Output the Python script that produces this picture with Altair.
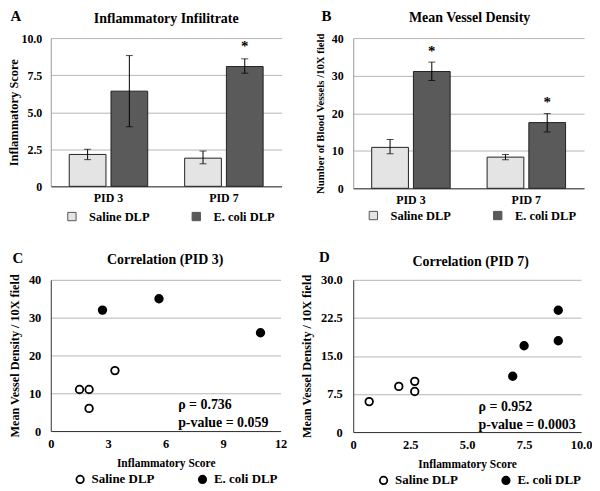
import altair as alt
import pandas as pd

FONT = "Liberation Serif"

# ---------------- data ----------------
timepoints = ["PID 3", "PID 3", "PID 7", "PID 7"]
groups = ["Saline DLP", "E. coli DLP", "Saline DLP", "E. coli DLP"]
group_order = ["Saline DLP", "E. coli DLP"]

infl_mean = [2.15, 6.42, 1.90, 8.08]
infl_low = [1.80, 4.02, 1.52, 7.63]
infl_high = [2.50, 8.82, 2.38, 8.60]
infl_star = [None, None, None, 9.45]

mvd_mean = [10.9, 31.1, 8.3, 17.5]
mvd_low = [9.2, 28.7, 7.6, 15.0]
mvd_high = [13.0, 33.6, 9.0, 19.9]
mvd_star = [None, 36.6, None, 23.0]

pid3_saline_x = [1.5, 2.0, 2.0, 3.35]
pid3_saline_y = [11, 11, 6, 16]
pid3_ecoli_x = [2.7, 5.65, 10.95]
pid3_ecoli_y = [32, 35, 26]

pid7_saline_x = [0.7, 2.0, 2.7, 2.7]
pid7_saline_y = [6, 9, 10, 8]
pid7_ecoli_x = [7.0, 7.5, 9.0, 9.0]
pid7_ecoli_y = [11, 17, 24, 18]

pid3_stats = ["ρ = 0.736", "p-value = 0.059"]
pid7_stats = ["ρ = 0.952", "p-value = 0.0003"]

# ---------------- helpers ----------------
LBL = "datum.value == 0 ? '0' : format(datum.value, '.1f')"


def text_layer(txt, x, y, size, align="center"):
    return alt.Chart(pd.DataFrame({"t": [txt]})).mark_text(
        font=FONT, fontWeight="bold", fontSize=size, align=align,
        baseline="middle", color="black"
    ).encode(text="t:N", x=alt.value(x), y=alt.value(y))


def bar_panel(mean, low, high, star, ymax, yvals, lbl_expr, ytitle, ytitle_size,
              title_txt, letter, w, h, letter_pos, title_pos, legend_x, legend_y,
              label_pad, title_pad):
    df = pd.DataFrame({"tp": timepoints, "grp": groups, "mean": mean,
                       "low": low, "high": high, "star": star})
    x = alt.X("tp:N", title=None,
              scale=alt.Scale(paddingInner=0.32, paddingOuter=0.16),
              axis=alt.Axis(labelAngle=0, labelFontSize=12, labelPadding=6,
                            ticks=False, domainColor="#333333", grid=False))
    xo = alt.XOffset("grp:N", sort=group_order,
                     scale=alt.Scale(paddingInner=0.12, paddingOuter=0))
    yax = alt.Axis(values=yvals, labelExpr=lbl_expr, title=ytitle,
                   titleFontSize=ytitle_size, ticks=False, labelPadding=label_pad,
                   titlePadding=title_pad, domainColor="#999999",
                   grid=True, gridColor="#b5b5b5", gridOpacity=1, gridWidth=1,
                   labelOverlap=False, labelFlush=False, labelFontSize=12)
    ysc = alt.Scale(domain=[0, ymax], nice=False)
    base = alt.Chart(df).encode(x=x, xOffset=xo)
    bars = base.mark_bar(stroke="#222222", strokeWidth=1).encode(
        y=alt.Y("mean:Q", scale=ysc, axis=yax),
        color=alt.Color("grp:N", sort=group_order,
                        scale=alt.Scale(domain=group_order, range=["#e4e4e4", "#5a5a5a"]),
                        legend=alt.Legend(title=None, orient="none", direction="horizontal",
                                          legendX=legend_x, legendY=legend_y,
                                          symbolType="square", symbolSize=70,
                                          symbolStrokeColor="#555555", symbolStrokeWidth=1,
                                          labelFont=FONT, labelFontWeight="bold",
                                          labelFontSize=12.5, labelColor="black",
                                          columnPadding=40, labelOffset=11)),
    )
    rule = base.mark_rule(color="black", strokeWidth=1).encode(
        y=alt.Y("low:Q", scale=ysc, axis=yax), y2="high:Q")
    cap_lo = base.mark_tick(color="black", thickness=1, size=7, orient="horizontal").encode(
        y=alt.Y("low:Q", scale=ysc, axis=yax))
    cap_hi = base.mark_tick(color="black", thickness=1, size=7, orient="horizontal").encode(
        y=alt.Y("high:Q", scale=ysc, axis=yax))
    stars = base.transform_filter("datum.star != null").mark_text(
        text="*", font=FONT, fontWeight="bold", fontSize=15, baseline="middle", color="black"
    ).encode(y=alt.Y("star:Q", scale=ysc, axis=yax))
    return alt.layer(
        bars, rule, cap_lo, cap_hi, stars,
        text_layer(letter, letter_pos[0], letter_pos[1], 15),
        text_layer(title_txt, title_pos[0], title_pos[1], 14),
    ).properties(width=w, height=h)


def scatter_panel(sx, sy, ex, ey, xmax, xvals, xlbl, ymax, yvals, ylbl, stats,
                  title_txt, letter, w, h, letter_pos, title_pos, legend_x, legend_y,
                  label_pad, title_pad, stats_pos):
    df = pd.DataFrame({
        "x": list(sx) + list(ex),
        "y": list(sy) + list(ey),
        "grp": [group_order[0]] * len(sx) + [group_order[1]] * len(ex),
    })
    pts = alt.Chart(df).mark_point(
        shape="circle", size=58, strokeWidth=1.8, stroke="black", opacity=1, fillOpacity=1
    ).encode(
        x=alt.X("x:Q", title="Inflammatory Score",
                scale=alt.Scale(domain=[0, xmax], nice=False),
                axis=alt.Axis(values=xvals, labelExpr=xlbl, ticks=False, grid=False,
                              labelPadding=7, titlePadding=7, titleFontSize=11.5,
                              labelOverlap=False, labelFlush=False,
                              labelFontSize=12.5, domainColor="#333333")),
        y=alt.Y("y:Q", title="Mean Vessel Density / 10X field",
                scale=alt.Scale(domain=[0, ymax], nice=False),
                axis=alt.Axis(values=yvals, labelExpr=ylbl, ticks=False,
                              labelPadding=label_pad, titlePadding=title_pad,
                              titleFontSize=12.3, labelFontSize=12.5, labelOverlap=False,
                              labelFlush=False,
                              domainColor="#333333", grid=True, gridColor="#b5b5b5",
                              gridOpacity=1, gridWidth=1)),
        fill=alt.Fill("grp:N", sort=group_order,
                      scale=alt.Scale(domain=group_order, range=["white", "black"]),
                      legend=alt.Legend(title=None, orient="none", direction="horizontal",
                                        legendX=legend_x, legendY=legend_y,
                                        symbolType="circle", symbolSize=55,
                                        symbolStrokeColor="black", symbolStrokeWidth=1.8,
                                        labelFont=FONT, labelFontWeight="bold",
                                        labelFontSize=13, labelColor="black",
                                        columnPadding=40, labelOffset=5)),
    )
    s1 = text_layer(stats[0], stats_pos[0], stats_pos[1], 14, align="left")
    s2 = text_layer(stats[1], stats_pos[0], stats_pos[1] + 18, 14, align="left")
    return alt.layer(
        pts, s1, s2,
        text_layer(letter, letter_pos[0], letter_pos[1], 15),
        text_layer(title_txt, title_pos[0], title_pos[1], 14),
    ).properties(width=w, height=h)


A = bar_panel(infl_mean, infl_low, infl_high, infl_star, 10, [0, 2.5, 5, 7.5, 10], LBL,
              "Inflammatory Score", 12.5, "Inflammatory Infilitrate", "A", 232, 149,
              (-35, -22), (116, -19), 15, 173, 9, 0)
B = bar_panel(mvd_mean, mvd_low, mvd_high, mvd_star, 40, [0, 10, 20, 30, 40], "datum.label",
              "Number of Blood Vessels /10X field", 10.8, "Mean Vessel Density", "B", 232, 151,
              (-27, -22), (117, -20), 14, 172, 10, 6)
C = scatter_panel(pid3_saline_x, pid3_saline_y, pid3_ecoli_x, pid3_ecoli_y,
                  12, [0, 3, 6, 9, 12], "datum.label", 40, [0, 10, 20, 30, 40], "datum.label",
                  pid3_stats, "Correlation (PID 3)", "C", 231, 152,
                  (-33, -22), (115, -20), 23, 194, 10, 7, (128, 126))
D = scatter_panel(pid7_saline_x, pid7_saline_y, pid7_ecoli_x, pid7_ecoli_y,
                  10, [0, 2.5, 5, 7.5, 10], LBL, 30, [0, 7.5, 15, 22.5, 30], LBL,
                  pid7_stats, "Correlation (PID 7)", "D", 229, 153,
                  (-29, -23), (118, -18), 24, 195, 11, 7, (126, 128))

chart = alt.concat(
    A, B, C, D, columns=2, bounds="flush",
    spacing={"row": 92, "column": 72},
).resolve_scale(
    color="independent", fill="independent"
).resolve_legend(
    color="independent", fill="independent"
).properties(
    padding={"left": 0, "top": 0, "right": 0, "bottom": 0}
).configure(
    font=FONT,
).configure_view(
    stroke=None,
).configure_axis(
    labelFont=FONT, labelFontWeight="bold", labelColor="black",
    titleFont=FONT, titleFontWeight="bold", titleColor="black",
)

chart.save("out.html", embed_options={"renderer": "svg", "actions": False})
